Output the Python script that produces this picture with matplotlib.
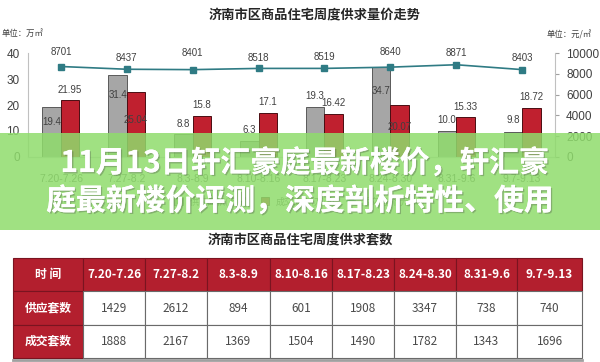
import matplotlib
matplotlib.use("Agg")
import matplotlib.pyplot as plt
import matplotlib.patheffects as pe
from matplotlib.patches import Rectangle
import numpy as np

plt.rcParams['font.family'] = ['Noto Sans CJK SC', 'DejaVu Sans']

# data
periods = ["7.20-7.26", "7.27-8.2", "8.3-8.9", "8.10-8.16",
           "8.17-8.23", "8.24-8.30", "8.31-9.6", "9.7-9.13"]
supply_area = [19.4, 31.4, 8.8, 6.3, 19.3, 34.7, 10.0, 9.8]
deal_area = [21.95, 25.04, 15.8, 17.1, 16.42, 20.07, 15.33, 18.72]
avg_price = [8701, 8437, 8401, 8518, 8519, 8640, 8871, 8403]
supply_sets = [1429, 2612, 894, 601, 1908, 3347, 738, 740]
deal_sets = [1888, 2167, 1369, 1504, 1490, 1782, 1343, 1696]

# label offsets in pixels (the source chart has some labels tucked inside bars)
supply_dy = [-15, -20, 10, 11, 11, -24, 11, 12]
deal_dy = [10, -28, 11, 11, 11, -22, 10, 11]
price_dy = [15, 11, 17, 10, 11, 15, 12, 12]

GRAY = "#a6a6a6"
RED = "#c0202f"
TEAL = "#2f7b84"
TABLE_RED = "#b31f2e"
NUM_FONT = "Liberation Sans"

fig = plt.figure(figsize=(6, 3.62), dpi=100)
W, H = 600, 362


def fig_rect(x0, y0, x1, y1):
    # pixel box (top-left origin) -> figure fraction rect
    return [x0 / W, 1 - y1 / H, (x1 - x0) / W, (y1 - y0) / H]


# ---- chart ----
ax = fig.add_axes(fig_rect(28, 53, 555, 157))
x = np.arange(len(periods))
bw = 0.28
ax.bar(x - bw / 2, supply_area, bw, color=GRAY, edgecolor="#5a5a5a", linewidth=0.7, zorder=2)
ax.bar(x + bw / 2, deal_area, bw, color=RED, edgecolor="#4a0d12", linewidth=0.7, zorder=2)
ax.set_xlim(-0.5, len(periods) - 0.5)
ax.set_ylim(0, 40)
ax.set_yticks([0, 10, 20, 30, 40])
ax.set_xticks(x)
ax.set_xticklabels(periods, fontsize=7.5, color="#595959", fontfamily=NUM_FONT)
ax.tick_params(axis="x", length=0, pad=12)
ax.tick_params(axis="y", length=0, pad=6, labelsize=8.5, labelcolor="#404040")
for lab in ax.get_yticklabels():
    lab.set_fontfamily(NUM_FONT)
for s in ["top", "right"]:
    ax.spines[s].set_visible(False)
ax.spines["left"].set_color("#c0c0c0")
ax.spines["bottom"].set_color("#d0d0d0")

for i, (v, dy) in enumerate(zip(supply_area, supply_dy)):
    ax.annotate(f"{v:.1f}", (x[i] - bw / 2, v), xytext=(0, dy), textcoords="offset pixels",
                ha="center", va="center", fontsize=7, color="#404040", fontfamily=NUM_FONT, zorder=5)
for i, (v, dy) in enumerate(zip(deal_area, deal_dy)):
    ax.annotate(f"{v:g}", (x[i] + bw / 2, v), xytext=(0, dy),
                textcoords="offset pixels", ha="center", va="center", fontsize=7,
                color="#404040", fontfamily=NUM_FONT, zorder=5)

ax2 = ax.twinx()
ax2.plot(x, avg_price, color=TEAL, linewidth=1.2, marker="s", markersize=4, zorder=3)
ax2.set_ylim(0, 10000)
ax2.set_yticks(range(0, 10001, 2000))
ax2.tick_params(axis="y", length=3, direction="out", color="#a0a0a0", pad=5,
                labelsize=8.5, labelcolor="#404040")
for lab in ax2.get_yticklabels():
    lab.set_fontfamily(NUM_FONT)
for s in ["top", "left", "bottom"]:
    ax2.spines[s].set_visible(False)
ax2.spines["right"].set_color("#c0c0c0")
for i, (v, dy) in enumerate(zip(avg_price, price_dy)):
    ax2.annotate(str(v), (x[i], v), xytext=(0, dy), textcoords="offset pixels",
                 ha="center", va="center", fontsize=7, color="#404040", fontfamily=NUM_FONT)

fig.text(315 / W, 1 - 15 / H, "济南市区商品住宅周度供求量价走势", ha="center", va="center",
         fontsize=9.5, fontweight="bold", color="#262626")
fig.text(2 / W, 1 - 33 / H, "单位：万㎡", ha="left", va="center", fontsize=6, color="#404040")
fig.text(592 / W, 1 - 35 / H, "单位：元/㎡", ha="right", va="center", fontsize=6, color="#404040")

# legend (mostly hidden below the banner)
handles = [Rectangle((0, 0), 1, 1, facecolor=GRAY, edgecolor="#5a5a5a", linewidth=0.6),
           Rectangle((0, 0), 1, 1, facecolor=RED, edgecolor="#4a0d12", linewidth=0.6),
           plt.Line2D([], [], color=TEAL, marker="s", markersize=3.5, linewidth=1.2)]
fig.legend(handles, ["供应面积(万㎡)", "成交面积(万㎡)", "成交均价(元/㎡)"], loc="center",
           bbox_to_anchor=(0.5, 1 - 201 / H), ncol=3, frameon=False, fontsize=6.5,
           handlelength=0.9, handleheight=0.9, columnspacing=1.2, labelcolor="#595959")

# ---- table ----
fig.text(0.5, 1 - 240 / H, "济南市区商品住宅周度供求套数", ha="center", va="center",
         fontsize=9.5, fontweight="bold", color="#262626")
tax = fig.add_axes(fig_rect(13, 258, 582, 358))
tax.axis("off")
cells = [["时 间"] + periods,
         ["供应套数"] + [str(v) for v in supply_sets],
         ["成交套数"] + [str(v) for v in deal_sets]]
col_w = [70, 62, 62, 63, 62, 62, 62, 61, 65]
tbl = tax.table(cellText=cells, cellLoc="center", bbox=[0, 0, 1, 1],
                colWidths=[w / sum(col_w) for w in col_w])
tbl.auto_set_font_size(False)
for (r, c), cell in tbl.get_celld().items():
    cell.set_linewidth(0.8)
    txt = cell.get_text()
    if r == 0 or c == 0:
        cell.set_facecolor(TABLE_RED)
        cell.set_edgecolor("#7a1420")
        txt.set_color("white")
        txt.set_fontweight("bold")
        txt.set_fontsize(8.5)
    else:
        cell.set_facecolor("white")
        cell.set_edgecolor("#6a6a6a")
        txt.set_color("#4a4a4a")
        txt.set_fontsize(8.5)
fig.add_artist(plt.Line2D([13 / W, 582 / W], [1 - 359.5 / H] * 2, color="#a0a0a0", linewidth=2))

# ---- banner overlay ----
fig.add_artist(Rectangle((0, 1 - 230 / H), 1, 97 / H, transform=fig.transFigure,
                         facecolor="#8fdc6c", alpha=0.85, edgecolor="none", zorder=10))
shadow = [pe.withSimplePatchShadow(offset=(1, -1), shadow_rgbFace="#404040", alpha=0.3), pe.Normal()]
fig.text(0.508, 1 - 163 / H, "11月13日轩汇豪庭最新楼价，轩汇豪", ha="center", va="center",
         fontsize=21.5, fontweight="bold", color="white", zorder=11, path_effects=shadow)
fig.text(0.5, 1 - 201 / H, "庭最新楼价评测，深度剖析特性、使用", ha="center", va="center",
         fontsize=21.5, fontweight="bold", color="white", zorder=11, path_effects=shadow)

fig.savefig("out.png", dpi=100)
